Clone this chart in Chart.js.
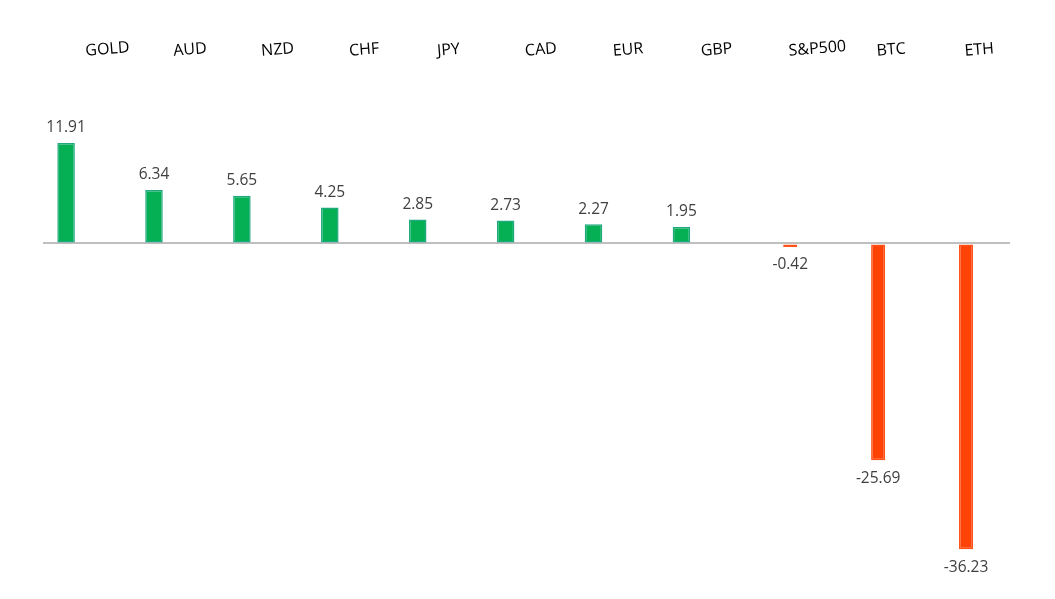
<!DOCTYPE html>
<html>
<head>
<meta charset="utf-8">
<script src="https://cdn.jsdelivr.net/npm/chart.js@4.4.1/dist/chart.umd.min.js"></script>
<style>
    html, body { margin: 0; padding: 0; background: #fff; }
    #wrap { width: 1055px; height: 599px; }
</style>
</head>
<body>
<div id="wrap"><canvas id="perfChart"></canvas></div>
<script>
// Performance by asset (%)
const assets = ['GOLD', 'AUD', 'NZD', 'CHF', 'JPY', 'CAD', 'EUR', 'GBP', 'S&P500', 'BTC', 'ETH'];
const changes = [11.91, 6.34, 5.65, 4.25, 2.85, 2.73, 2.27, 1.95, -0.42, -25.69, -36.23];

const gains = changes.map(v => v >= 0 ? v : null);
const losses = changes.map(v => v < 0 ? v : null);
const spacer = changes.map(() => null);

// value labels above / below each bar
const valueLabels = {
    id: 'valueLabels',
    afterDatasetsDraw(chart) {
        const ctx = chart.ctx;
        ctx.save();
        ctx.font = '15.5px "Open Sans", sans-serif';
        ctx.fillStyle = '#404040';
        ctx.textAlign = 'center';
        ctx.textBaseline = 'middle';
        [0, 2].forEach(di => {
            const meta = chart.getDatasetMeta(di);
            meta.data.forEach((bar, i) => {
                const v = chart.data.datasets[di].data[i];
                if (v === null) return;
                const y = v >= 0 ? bar.y - 15 : bar.y + 18;
                ctx.fillText(v.toFixed(2), bar.x, y);
            });
        });
        ctx.restore();
    }
};

new Chart(document.getElementById('perfChart'), {
    type: 'bar',
    data: {
        labels: assets,
        datasets: [
            {
                data: gains,
                backgroundColor: '#05b055',
                borderColor: '#20a880',
                borderWidth: 1.5,
                borderSkipped: false,
                categoryPercentage: 0.95,
                barPercentage: 0.42
            },
            {
                data: spacer,
                backgroundColor: 'transparent',
                categoryPercentage: 0.95,
                barPercentage: 0.42
            },
            {
                data: losses,
                backgroundColor: '#ff4306',
                borderColor: '#ff5218',
                borderWidth: 1.5,
                borderSkipped: false,
                grouped: false,
                barPercentage: 0.2
            }
        ]
    },
    options: {
        responsive: true,
        maintainAspectRatio: false,
        animation: false,
        layout: { padding: { left: 43, right: 45, top: 31, bottom: 18 } },
        plugins: {
            legend: { display: false },
            tooltip: { enabled: false }
        },
        scales: {
            x: {
                position: 'top',
                grid: { display: false },
                border: { display: false },
                ticks: {
                    color: '#000',
                    font: { family: '"Open Sans", sans-serif', size: 16 },
                    minRotation: 4.5,
                    maxRotation: 4.5,
                    padding: 6
                }
            },
            y: {
                min: -40,
                max: 20,
                ticks: { display: false, stepSize: 10 },
                border: { display: false },
                grid: {
                    drawTicks: false,
                    lineWidth: 2,
                    color: c => c.tick.value === 0 ? '#bfbfbf' : 'transparent'
                }
            }
        }
    },
    plugins: [valueLabels]
});
</script>
</body>
</html>
